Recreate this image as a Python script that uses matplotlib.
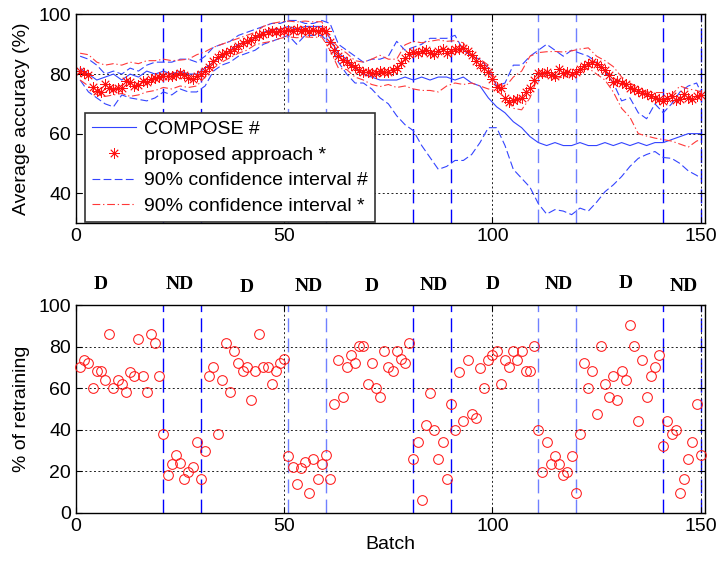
import matplotlib
matplotlib.use('Agg')
import matplotlib.pyplot as plt
import numpy as np

plt.rcParams['font.family'] = ['Liberation Sans', 'DejaVu Sans']

# --- top panel: average accuracy ---
batches = list(range(1, 151))
proposed = [81, 80.5, 79.6, 75.5, 74.4, 74, 76.5, 75.3, 75, 75.2,
            75.4, 77.8, 77.2, 76, 76.3, 77.6, 77.4, 78.4, 78.8, 79,
            79.4, 79.2, 79.5, 79.7, 80.2, 79.6, 78.8, 78.5, 79.3, 80,
            81, 82.4, 84.5, 85.8, 86.6, 87, 87.6, 88.4, 89.5, 90.3,
            91, 91.5, 92.6, 93.2, 93.6, 94.2, 94.3, 94.1, 94.3, 94.6,
            94.8, 94.3, 95, 94.6, 94.9, 94.4, 94.8, 94.5, 94.9, 94.6,
            90.8, 88, 86, 84.8, 84, 83.2, 82.3, 81.3, 80.6, 80.8,
            80.3, 80.5, 80.9, 80.6, 80.8, 81.3, 82, 83.8, 85.5, 86.8,
            87.4, 87, 87.6, 88, 87.2, 86.8, 87.6, 88.4, 87.2, 87.8,
            88.3, 88.5, 88.6, 87.8, 86.3, 84.3, 83, 82, 80.8, 78.5,
            75.7, 75.4, 71.8, 70.7, 71.2, 71.6, 71.8, 74, 75.3, 78,
            80.4, 80.5, 80.8, 79.7, 79.2, 81.6, 80.5, 80.8, 79.9, 80.6,
            81.8, 82.7, 83.5, 84.2, 83.3, 82.4, 81.2, 79.8, 77.2, 77.6,
            77, 76.5, 75.4, 75, 74.2, 73.7, 73.2, 72.5, 72.1, 71.7,
            71, 71.9, 72.6, 71.3, 71.6, 73.4, 72.1, 71.6, 72.5, 72.9]

line_batches = list(range(1, 150, 2)) + [150]
compose = [82, 80, 78, 79, 80, 78, 80, 79, 81, 80,
           81, 80, 81, 80, 80, 82, 84, 86, 88, 90,
           91, 92, 94, 95, 95, 96, 95, 96, 96, 96,
           92, 87, 85, 82, 80, 79, 78, 78, 78, 79,
           78, 79, 78, 79, 79, 78, 79, 77, 76, 72,
           69, 67, 64, 62, 59, 57, 56, 57, 56, 56,
           57, 56, 56, 57, 56, 57, 56, 57, 56, 57,
           57, 58, 59, 60, 60, 60]
compose_hi = [86, 85, 83, 80, 81, 80, 82, 81, 83, 84,
              84, 84, 85, 85, 84, 86, 89, 90, 91, 93,
              94, 95, 96, 97, 97, 98, 98, 97, 97, 98,
              97, 90, 88, 86, 84, 85, 85, 86, 91, 88,
              89, 90, 92, 92, 92, 93, 88, 86, 85, 82,
              76, 77, 83, 83, 86, 88, 90, 88, 86, 88,
              87, 86, 84, 81, 77, 71, 72, 67, 65, 70,
              67, 70, 74, 76, 77, 74]
compose_lo = [78, 74, 72, 70, 69, 73, 72, 71.5, 71, 72,
              74, 73, 75, 74, 74, 76, 81, 83, 84, 86,
              87, 88, 90, 91, 92, 93, 90, 93, 93, 93,
              90, 84, 80, 77, 77, 75, 72, 70, 66, 63,
              61, 56, 52, 48, 49, 51, 51, 53, 57, 62,
              62, 56, 48, 45, 42, 36.5, 33, 34.5, 34, 32.8,
              35, 34, 37, 40.5, 42.8, 45.6, 49, 51.7, 53, 54,
              52, 51.7, 50, 47.5, 46, 45]
proposed_hi = [87, 86.5, 84, 83, 83.5, 83, 84, 83.5, 84.5, 84.5,
               85, 84.5, 84.7, 85, 86.5, 87.5, 89, 90, 91, 92,
               93, 94, 96, 97, 97.5, 97.8, 97.5, 97.8, 97.5, 97.6,
               92, 89, 87, 84.5, 84, 85, 86.3, 85, 85, 89.8,
               91, 90.5, 91, 91.5, 91, 91.2, 90.5, 86, 85, 83,
               77, 75.6, 79, 81, 86, 87.2, 87.5, 87.6, 87.4, 87.8,
               88.4, 88.8, 86, 84.5, 82.5, 79, 77, 75.5, 74, 73.8,
               73.8, 73, 76, 75, 74.5, 74]
proposed_lo = [78, 76, 73, 72.5, 73, 73.5, 72.5, 73, 74, 74.5,
               75.5, 75, 76, 75.5, 76, 79, 82, 84, 85.5, 87,
               88, 89.8, 90.5, 91, 92, 92.5, 92.2, 92.5, 92.3, 92.5,
               88, 82, 81.5, 79, 78, 76.5, 75.8, 76.5, 75.5, 76,
               75, 74.5, 74.5, 74, 76, 77, 76.5, 77, 76, 75,
               74.5, 72, 68.5, 68, 72, 79.5, 79, 78.5, 79, 79.5,
               81, 82, 80, 78, 74, 68.5, 65.5, 60, 59.2, 58.5,
               58, 57.5, 56.5, 55.5, 57.5, 58]

# --- bottom panel: % of retraining ---
retraining = [70.2, 73.8, 72.3, 60.2, 68.2, 68.2, 63.8, 86, 60, 63.8,
              62.2, 58, 67.8, 66, 83.8, 66, 58, 86.2, 81.8, 66,
              37.8, 18.2, 23.8, 27.8, 24.2, 16.3, 19.8, 21.9, 34.1, 16.2,
              29.8, 66, 70.2, 37.9, 63.8, 81.8, 58, 77.9, 72.3, 68.2,
              70.2, 54.2, 68.2, 86, 70.2, 70.2, 62.2, 68.2, 72.3, 74.2,
              27.5, 21.9, 13.9, 21.4, 24.3, 9.8, 25.9, 16.2, 23.8, 27.8,
              16.2, 52.2, 73.8, 55.8, 70.2, 75.8, 72.3, 80.2, 80.2, 62.2,
              72.3, 60.2, 55.8, 77.9, 70.2, 68.2, 77.9, 73.9, 72.3, 81.8,
              26.1, 34.1, 6.2, 42.1, 57.9, 39.8, 25.9, 34.1, 16.2, 52.2,
              39.8, 67.8, 44.2, 73.8, 47.8, 45.9, 69.9, 60.2, 73.8, 75.8,
              77.9, 62.2, 73.8, 70.2, 77.9, 73.8, 77.9, 68.2, 68.2, 80.2,
              39.8, 19.8, 34.1, 23.8, 27.5, 23.8, 18.2, 19.8, 27.5, 9.8,
              37.9, 72.2, 60.2, 68.2, 47.8, 80.2, 62.2, 55.8, 66, 54.2,
              68.2, 63.8, 90.2, 80.2, 44.2, 73.8, 55.8, 66, 70.2, 75.8,
              32.2, 44.2, 37.9, 39.8, 9.8, 16.2, 25.9, 34.1, 52.2, 27.7]

change_points = [21, 30, 51, 60, 81, 90, 111, 120, 141, 150]
change_colors = ['#0000ff', '#0000ff', '#7080ff', '#7080ff', '#0000ff',
                 '#0000ff', '#7080ff', '#7080ff', '#0000ff', '#0000ff']
drift_labels = ['D', 'ND', 'D', 'ND', 'D', 'ND', 'D', 'ND', 'D', 'ND']
drift_x = [6, 25, 41, 56, 71, 86, 100, 116, 132, 146]
drift_y = [110, 110, 108.5, 109, 109, 109.5, 110, 110, 110.5, 109]

asterisk = (8, 2, 0)

fig = plt.figure(figsize=(7.18, 5.62), dpi=100)
ax1 = fig.add_axes([0.1058, 0.6032, 0.876, 0.371])
ax2 = fig.add_axes([0.1058, 0.0872, 0.876, 0.370])


def style_axes(ax):
    ax.set_xlim(0, 151)
    ax.set_xticks([0, 50, 100, 150])
    ax.tick_params(direction='in', length=4, labelsize=14, top=True, right=True)
    ax.grid(True, color='#222222', linestyle=(0, (2, 2.5)), linewidth=0.7)
    for s in ax.spines.values():
        s.set_linewidth(1.0)
    for xc, c in zip(change_points, change_colors):
        ax.axvline(xc, color=c, linestyle=(0, (10, 4.5)), linewidth=1.0, zorder=1.5)


# top
style_axes(ax1)
ax1.set_ylim(30, 100)
ax1.set_yticks([40, 60, 80, 100])
h1, = ax1.plot(line_batches, compose, color='#3344ff', lw=0.8, label='COMPOSE #')
h3, = ax1.plot(line_batches, compose_hi, color='#3344ff', lw=0.8,
               linestyle=(0, (7, 3)), label='90% confidence interval #')
ax1.plot(line_batches, compose_lo, color='#3344ff', lw=0.8, linestyle=(0, (7, 3)))
h4, = ax1.plot(line_batches, proposed_hi, color='#ff3838', lw=0.8,
               linestyle=(0, (7, 2.5, 1.2, 2.5)), label='90% confidence interval *')
ax1.plot(line_batches, proposed_lo, color='#ff3838', lw=0.8,
         linestyle=(0, (7, 2.5, 1.2, 2.5)))
h2, = ax1.plot(batches, proposed, linestyle='none', marker=asterisk, markersize=7.5,
               color='#ff1010', markeredgewidth=0.6, label='proposed approach *')
ax1.set_ylabel('Average accuracy (%)', fontsize=14, labelpad=6)
leg = ax1.legend(handles=[h1, h2, h3, h4], loc='lower left',
                 bbox_to_anchor=(0.014, 0.005), borderaxespad=0, fontsize=14,
                 fancybox=False, framealpha=1, edgecolor='#333333',
                 handlelength=2.3, handletextpad=0.4, borderpad=0.35,
                 labelspacing=0.42)
leg.get_frame().set_linewidth(1.2)
leg.set_zorder(5)

# bottom
style_axes(ax2)
ax2.set_ylim(0, 100)
ax2.set_yticks([0, 20, 40, 60, 80, 100])
ax2.plot(batches, retraining, linestyle='none', marker='o', markersize=7,
         markerfacecolor='none', markeredgecolor='#ff1a1a', markeredgewidth=0.75,
         clip_on=False, zorder=3)
ax2.set_ylabel('% of retraining', fontsize=14, labelpad=6)
ax2.set_xlabel('Batch', fontsize=14, labelpad=1)
for lab, xd, yd in zip(drift_labels, drift_x, drift_y):
    ax2.text(xd, yd, lab, ha='center', va='center', fontsize=14,
             fontweight='bold', family='Liberation Serif', clip_on=False)

fig.savefig('out.png', dpi=100)
